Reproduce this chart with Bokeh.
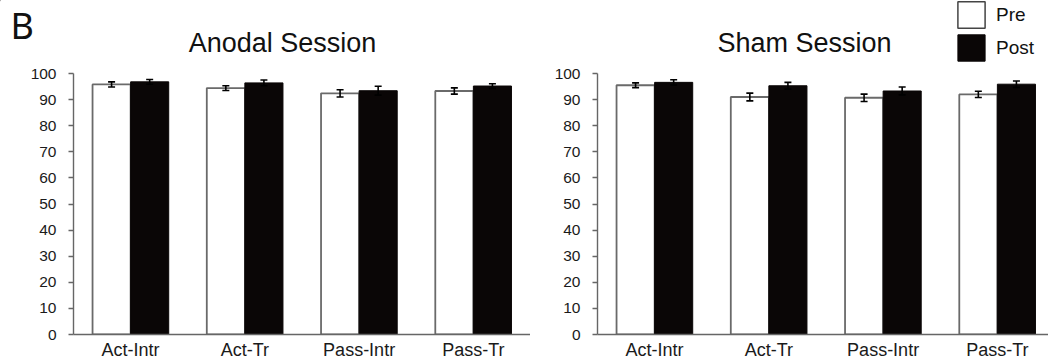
import numpy as np
from bokeh.plotting import figure
from bokeh.models import (Range1d, FixedTicker, ColumnDataSource, Whisker, Label,
                          Legend, LegendItem, TeeHead)
from bokeh.transform import dodge
from bokeh.layouts import row, column
from bokeh.embed import file_html
from bokeh.resources import INLINE

categories = ["Act-Intr", "Act-Tr", "Pass-Intr", "Pass-Tr"]
anodal_pre = [95.8, 94.4, 92.4, 93.3]
anodal_post = [96.8, 96.4, 93.4, 95.2]
anodal_pre_err = [1.0, 0.9, 1.4, 1.2]
anodal_post_err = [0.9, 1.1, 1.7, 0.9]
sham_pre = [95.5, 91.0, 90.7, 92.0]
sham_post = [96.6, 95.3, 93.3, 95.9]
sham_pre_err = [0.9, 1.5, 1.4, 1.2]
sham_post_err = [1.0, 1.3, 1.5, 1.2]
y_ticks = [0, 10, 20, 30, 40, 50, 60, 70, 80, 90, 100]
titles = ["Anodal Session", "Sham Session"]
series = ["Pre", "Post"]
panel_letter = "B"

FONT = "Liberation Sans"
AXIS_COLOR = "#666666"
PRE_LINE = "#6a6a6a"
POST_FILL = "#0a0606"
BAR_W = 1 / 3
TOP_H = 64


def make_panel(pre, post, pre_err, post_err, width, border_left, x_end):
    x = np.arange(len(categories)) + 0.5
    src = ColumnDataSource(dict(
        x=x, pre=pre, post=post,
        pre_lo=np.array(pre) - np.array(pre_err), pre_hi=np.array(pre) + np.array(pre_err),
        post_lo=np.array(post) - np.array(post_err), post_hi=np.array(post) + np.array(post_err),
    ))
    p = figure(width=width, height=362 - TOP_H, x_range=Range1d(0, x_end), y_range=Range1d(0, 100),
               output_backend="svg", toolbar_location=None,
               min_border_left=border_left, min_border_right=0, min_border_top=9,
               min_border_bottom=0)
    p.outline_line_color = None
    p.xgrid.grid_line_color = None
    p.ygrid.grid_line_color = None
    p.background_fill_color = "white"
    p.border_fill_color = "white"

    p.vbar(x=dodge("x", -BAR_W / 2, range=p.x_range), top="pre", width=BAR_W, bottom=0,
           source=src, fill_color="white", line_color=PRE_LINE, line_width=1.8)
    p.vbar(x=dodge("x", BAR_W / 2, range=p.x_range), top="post", width=BAR_W, bottom=0,
           source=src, fill_color=POST_FILL, line_color=POST_FILL, line_width=1)

    for off, lo, hi in [(-BAR_W / 2, "pre_lo", "pre_hi"), (BAR_W / 2, "post_lo", "post_hi")]:
        w = Whisker(base=dodge("x", off, range=p.x_range), lower=lo, upper=hi, source=src,
                    line_color="black", line_width=1.6, level="annotation",
                    upper_head=TeeHead(size=7, line_color="black", line_width=1.6),
                    lower_head=TeeHead(size=7, line_color="black", line_width=1.6))
        p.add_layout(w)

    p.yaxis.ticker = FixedTicker(ticks=y_ticks)
    p.yaxis.minor_tick_line_color = None
    p.yaxis.major_tick_out = 5
    p.yaxis.major_tick_in = 0
    p.yaxis.axis_line_color = AXIS_COLOR
    p.yaxis.axis_line_width = 1.4
    p.yaxis.major_tick_line_color = AXIS_COLOR
    p.yaxis.major_tick_line_width = 1.4
    p.yaxis.major_label_text_font = FONT
    p.yaxis.major_label_text_font_size = "15.5px"
    p.yaxis.major_label_text_color = "#1a1a1a"
    p.yaxis.major_label_standoff = 12

    p.xaxis.ticker = FixedTicker(ticks=list(x))
    p.xaxis.major_label_overrides = {float(v): c for v, c in zip(x, categories)}
    p.xaxis.minor_tick_line_color = None
    p.xaxis.major_tick_line_color = None
    p.xaxis.major_tick_out = 0
    p.xaxis.major_tick_in = 0
    p.xaxis.axis_line_color = AXIS_COLOR
    p.xaxis.axis_line_width = 1.4
    p.xaxis.major_label_text_font = FONT
    p.xaxis.major_label_text_font_size = "18px"
    p.xaxis.major_label_text_color = "#1a1a1a"
    p.xaxis.major_label_standoff = 5
    return p


p1 = make_panel(anodal_pre, anodal_post, anodal_pre_err, anodal_post_err, 530, 73, 4.0)
p2 = make_panel(sham_pre, sham_post, sham_pre_err, sham_post_err, 518, 67, 451 / 114.25)

# header strip: panel letter, titles and the Pre/Post key
top = figure(width=1048, height=TOP_H, x_range=Range1d(0, 1048), y_range=Range1d(TOP_H, 0),
             output_backend="svg", toolbar_location=None,
             x_axis_location=None, y_axis_location=None,
             min_border_left=0, min_border_right=0, min_border_top=0, min_border_bottom=0)
top.outline_line_color = None
top.xgrid.grid_line_color = None
top.ygrid.grid_line_color = None

top.add_layout(Label(x=10, y=25, text=panel_letter, text_align="left", text_baseline="middle",
                     text_font="Noto Sans", text_font_size="36px", text_color="#111111"))
for cx, t in zip([282, 804], titles):
    top.add_layout(Label(x=cx, y=42, text=t, text_align="center", text_baseline="middle",
                         text_font=FONT, text_font_size="27px", text_color="#111111"))

# key swatches: zero-height stand-in bars placed outside the visible strip
key_src = ColumnDataSource(dict(x=[-500], top=[0]))
r_pre = top.vbar(x="x", top="top", bottom=0, width=1, source=key_src,
                 fill_color="white", line_color="#444444", line_width=1.5)
r_post = top.vbar(x="x", top="top", bottom=0, width=1, source=key_src,
                  fill_color=POST_FILL, line_color=POST_FILL, line_width=1)
lg = Legend(items=[LegendItem(label=series[0], renderers=[r_pre]),
                   LegendItem(label=series[1], renderers=[r_post])],
            location=(954, 0), glyph_width=34, glyph_height=33, spacing=0,
            padding=0, margin=0, label_standoff=8, label_text_font=FONT,
            label_text_font_size="19px", label_text_color="#111111",
            border_line_color=None, background_fill_alpha=0)
top.add_layout(lg)

layout = column(top, row(p1, p2, spacing=0), spacing=0)

open("out.html", "w").write(file_html(layout, INLINE))
